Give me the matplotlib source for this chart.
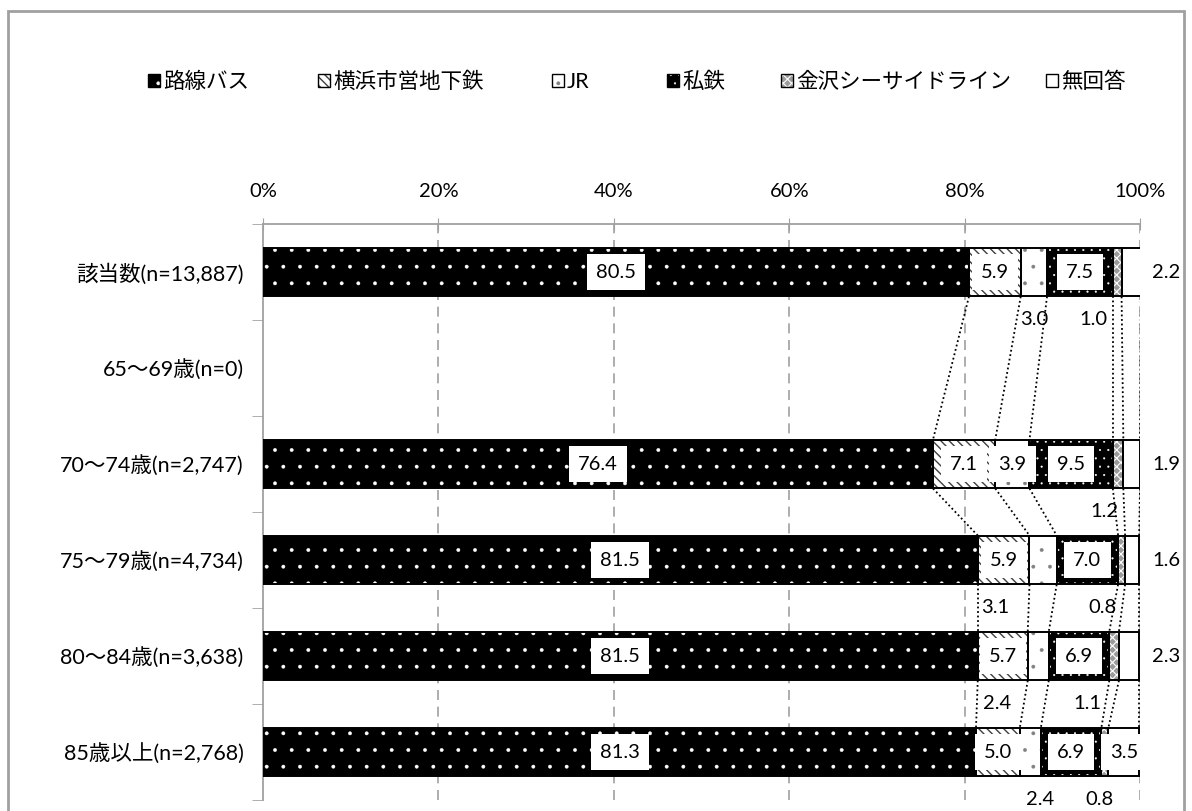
import numpy as np
import matplotlib
matplotlib.use('Agg')
import matplotlib.pyplot as plt
from matplotlib.patches import Patch, Rectangle

plt.rcParams['font.family'] = ['Lato', 'Noto Sans CJK JP', 'DejaVu Sans']

# 利用交通機関（%）
categories = ['該当数(n=13,887)', '65〜69歳(n=0)', '70〜74歳(n=2,747)',
              '75〜79歳(n=4,734)', '80〜84歳(n=3,638)', '85歳以上(n=2,768)']
series = ['路線バス', '横浜市営地下鉄', 'JR', '私鉄', '金沢シーサイドライン', '無回答']
bus = [80.5, np.nan, 76.4, 81.5, 81.5, 81.3]
subway = [5.9, np.nan, 7.1, 5.9, 5.7, 5.0]
jr = [3.0, np.nan, 3.9, 3.1, 2.4, 2.4]
private = [7.5, np.nan, 9.5, 7.0, 6.9, 6.9]
seaside = [1.0, np.nan, 1.2, 0.8, 1.1, 0.8]
no_answer = [2.2, np.nan, 1.9, 1.6, 2.3, 3.5]
xticks = [0, 20, 40, 60, 80, 100]

values = np.array([bus, subway, jr, private, seaside, no_answer])

# 塗り: (地色, ハッチ, ハッチ色, ハッチ線幅)
styles = [('black', '.', 'white', 0.3),
          ('white', '\\\\\\\\', '#404040', 1.0),
          ('white', '.', '#808080', 0.3),
          ('black', '..', 'white', 0.3),
          ('#9a9a9a', 'xxxx', 'white', 0.8),
          ('white', '', 'white', 1.0)]

# ラベル位置: c=中央(白枠), b=下, r=右 / 下ラベルの横ずれ(%)
label_pos = {
    0: ['c', 'c', ('b', 0.0), 'c', ('b', -2.7), 'r'],
    2: ['c', 'c', 'c', 'c', ('b', -1.5), 'r'],
    3: ['c', 'c', ('b', -5.5), 'c', ('b', -2.2), 'r'],
    4: ['c', 'c', ('b', -4.7), 'c', ('b', -3.1), 'r'],
    5: ['c', 'c', ('b', 1.1), 'c', ('b', -0.6), 'c'],
}

# 凡例の左端(px)
legend_x = [148, 318, 552, 667, 781, 1046]

fig = plt.figure(figsize=(11.92, 8.11), dpi=100)
ax = fig.add_axes([263 / 1192, 1 - 800 / 811, 877 / 1192, 576 / 811])

y = np.arange(len(categories))
rows = [i for i in range(len(categories)) if not np.isnan(values[0][i])]
yr = y[rows]
h = 0.51
left = np.zeros(len(rows))
for j in range(len(series)):
    v = values[j][rows]
    fc, hatch, hc, hlw = styles[j]
    ax.barh(yr, v, h, left=left, color=fc, edgecolor='none', zorder=2)
    if hatch:
        plt.rcParams['hatch.linewidth'] = hlw
        ax.barh(yr, v, h, left=left, color='none', edgecolor=hc, hatch=hatch,
                linewidth=0, zorder=3)
    ax.barh(yr, v, h, left=left, color='none', edgecolor='black',
            linewidth=1.4, zorder=4)
    left = left + v

# 系列線
cums = np.nancumsum(values, axis=0)
for a, b in zip(rows[:-1], rows[1:]):
    for j in range(len(series)):
        ax.plot([cums[j][a], cums[j][b]], [a + h / 2, b - h / 2],
                color='black', linestyle=(0, (1, 1.5)), linewidth=1.3, zorder=5)

# データラベル
fs = 14.5
for i, pos in label_pos.items():
    start = 0.0
    for j in range(len(series)):
        v = values[j][i]
        mid = start + v / 2
        p = pos[j]
        txt = f'{v:.1f}'
        if p == 'c':
            ax.text(mid, i, txt, ha='center', va='center', fontsize=fs, zorder=6,
                    bbox=dict(boxstyle='square,pad=0.45', fc='white', ec='none'))
        elif p == 'r':
            ax.text(103, i, txt, ha='center', va='center', fontsize=fs, zorder=6)
        else:
            ax.text(mid + p[1], i + 0.49, txt, ha='center', va='center',
                    fontsize=fs, zorder=6)
        start += v

ax.set_xlim(0, 100)
ax.set_ylim(len(categories) - 0.5, -0.5)
ax.xaxis.tick_top()
ax.set_xticks(xticks)
ax.set_xticklabels([f'{t}%' for t in xticks], fontsize=14.5)
ax.tick_params(axis='x', direction='inout', length=8, color='#a0a0a0', pad=13)
ax.set_yticks(y)
ax.set_yticklabels(categories, fontsize=15.5)
ax.tick_params(axis='y', which='major', length=0, pad=14)
ax.set_yticks(np.arange(-0.5, len(categories)), minor=True)
ax.tick_params(axis='y', which='minor', direction='out', length=8, color='#a0a0a0')
for t in xticks[1:]:
    ax.axvline(t, color='#a0a0a0', linestyle=(0, (6, 4)), linewidth=1.2, zorder=1)
for s in ['bottom', 'right']:
    ax.spines[s].set_visible(False)
for s in ['top', 'left']:
    ax.spines[s].set_color('#a0a0a0')
    ax.spines[s].set_linewidth(1.3)

# 凡例
for j in range(len(series)):
    fc, hatch, hc, hlw = styles[j]
    plt.rcParams['hatch.linewidth'] = hlw
    handle = (Patch(facecolor=fc, edgecolor='none'),
              Patch(facecolor='none', edgecolor=hc, hatch=hatch, linewidth=0),
              Patch(facecolor='none', edgecolor='black', linewidth=1.0))
    fig.legend([handle], [series[j]], loc='center left',
               bbox_to_anchor=(legend_x[j] / 1192, 1 - 82 / 811),
               frameon=False, fontsize=15.5, handlelength=0.55, handleheight=0.55,
               handletextpad=0.15, borderpad=0, borderaxespad=0)

fig.patches.append(Rectangle((8 / 1192, -0.05), 1176 / 1192, 1.05 - 11 / 811,
                             transform=fig.transFigure, fill=False,
                             edgecolor='#a0a0a0', linewidth=2))

fig.savefig('out.png', dpi=100)
